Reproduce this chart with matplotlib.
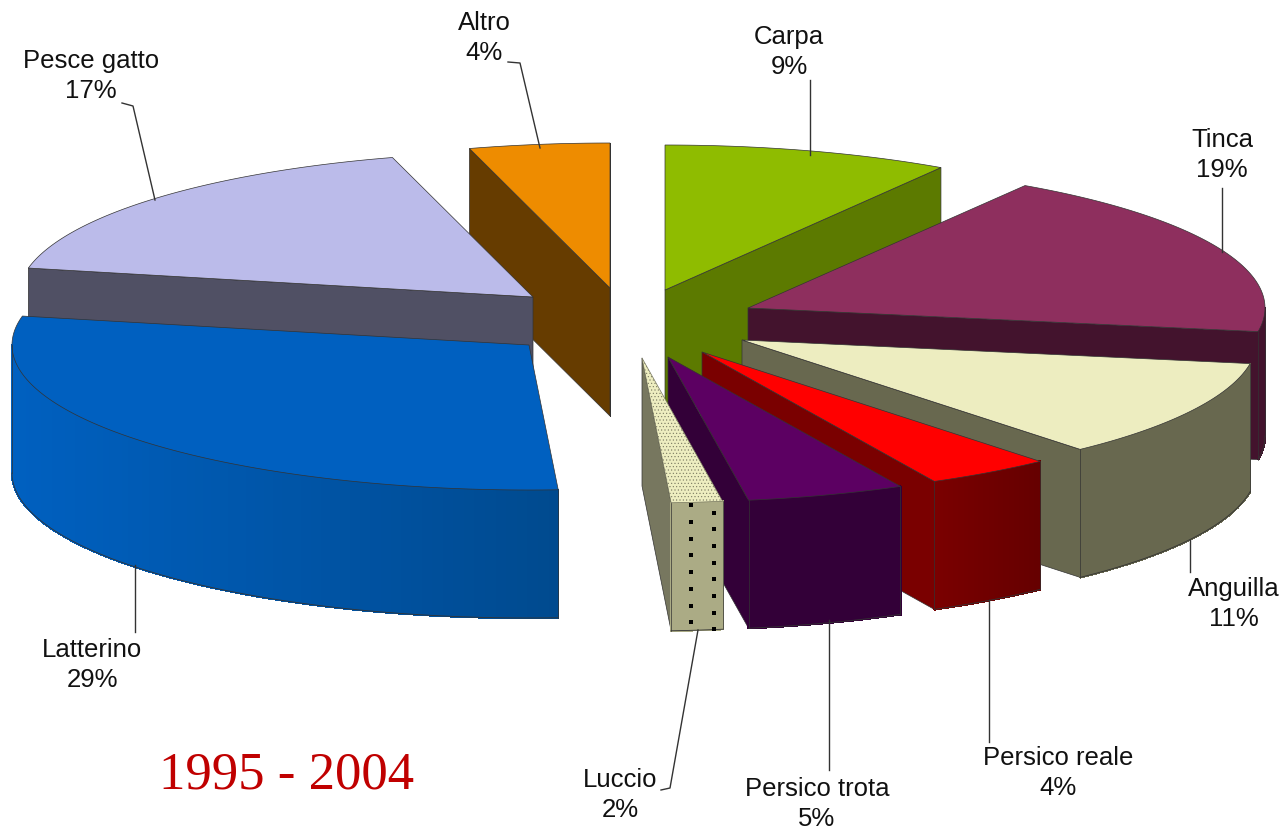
import numpy as np
import matplotlib
matplotlib.use('Agg')
import matplotlib.pyplot as plt
from matplotlib.colors import to_rgb

# slices clockwise from 12 o'clock
names = ['Carpa', 'Tinca', 'Anguilla', 'Persico reale', 'Persico trota',
         'Luccio', 'Latterino', 'Pesce gatto', 'Altro']
values = [9.0, 18.6, 11.0, 3.95, 4.95, 1.6, 29.1, 17.4, 4.4]

top_colors = ['#8fbc00', '#8e2f5e', '#ededc0', '#ff0000', '#5c0062',
              '#ededc0', '#0060c0', '#bbbbea', '#ee8c00']
side_colors = ['#5c7a00', '#43132d', '#68684f', '#7a0000', '#330038',
               '#77775f', '#0060c0', '#505064', '#663c00']
wall_left = ['#5c7a00', '#43132d', '#68684f', '#7a0000', '#330038',
             '#abab85', '#0060c0', '#505064', '#663c00']
wall_right = ['#5c7a00', '#43132d', '#68684f', '#650000', '#330038',
              '#abab85', '#004a8f', '#505064', '#663c00']

# where each exploded slice has its point, in pixels
apex = [(665, 290), (748, 308), (742, 340), (702, 352), (668, 357),
        (642, 358), (529, 345), (533, 297), (610, 288)]
slice_rx = [515, 517, 515, 515, 515, 515, 517, 515, 515]
draw_order = [8, 0, 7, 1, 2, 3, 4, 5, 6]
ry, depth = 145, 128
edge = '#333333'

# label centre and leader line for each slice
label_pos = [(789, 52), (1222, 155), (1234, 604), (1058, 773), (817, 804),
             (620, 795), (92, 665), (91, 76), (484, 38)]
leaders = [[(810, 80), (810, 155)],
           [(1222, 188), (1222, 252)],
           [(1190, 540), (1190, 572)],
           [(989, 600), (989, 742)],
           [(829, 620), (829, 770)],
           [(698, 630), (670, 788), (661, 790)],
           [(135, 565), (135, 632)],
           [(122, 103), (133, 106), (155, 200)],
           [(508, 62), (520, 63), (540, 148)]]

fig = plt.figure(figsize=(12.81, 8.30), dpi=100)
ax = fig.add_axes([0, 0, 1, 1])
ax.set_xlim(0, 1281)
ax.set_ylim(830, 0)
ax.axis('off')

bounds = np.cumsum([0] + values) / sum(values) * 2 * np.pi


def rim(i, t):
    return apex[i][0] + slice_rx[i] * np.sin(t), apex[i][1] - ry * np.cos(t)


def radial_face(i, t, color):
    x0, y0 = apex[i]
    x1, y1 = rim(i, t)
    ax.fill([x0, x1, x1, x0], [y0, y1, y1 + depth, y0 + depth],
            fc=color, ec=edge, lw=0.5, joinstyle='round')


def outer_wall(i, t1, t2):
    # only the part turned toward the viewer
    t1, t2 = max(t1, np.pi / 2), min(t2, 3 * np.pi / 2)
    if t2 <= t1:
        return
    ts = np.linspace(t1, t2, 80)
    xs, ys = rim(i, ts)
    xmin, xmax = xs.min(), xs.max()
    c0, c1 = np.array(to_rgb(wall_left[i])), np.array(to_rgb(wall_right[i]))
    for k in range(len(ts) - 1):
        f = ((xs[k] + xs[k + 1]) / 2 - xmin) / (xmax - xmin)
        col = c0 + (c1 - c0) * f
        ax.fill([xs[k], xs[k + 1], xs[k + 1], xs[k]],
                [ys[k], ys[k + 1], ys[k + 1] + depth, ys[k] + depth],
                fc=col, ec=col, lw=1.0, antialiased=False)
    ax.plot(xs, ys + depth, color=edge, lw=0.6)
    ax.plot([xs[0], xs[0]], [ys[0], ys[0] + depth], color=edge, lw=0.5)
    ax.plot([xs[-1], xs[-1]], [ys[-1], ys[-1] + depth], color=edge, lw=0.5)


for i in draw_order:
    t1, t2 = bounds[i], bounds[i + 1]
    if np.sin(t1) < 0:
        radial_face(i, t1, side_colors[i])
    if np.sin(t2) > 0:
        radial_face(i, t2, side_colors[i])
    outer_wall(i, t1, t2)

    # top of the slice
    ts = np.linspace(t1, t2, 120)
    xs, ys = rim(i, ts)
    xs = np.r_[apex[i][0], xs]
    ys = np.r_[apex[i][1], ys]
    if names[i] == 'Luccio':
        plt.rcParams['hatch.linewidth'] = 0.4
        ax.fill(xs, ys, fc=top_colors[i], ec='#77775f', lw=0.5, hatch='.....')
        # dark dots of the same pattern on the wall
        for f, start in ((0.62, 3), (0.16, 11)):
            wx, wy = rim(i, t1 + (t2 - t1) * f)
            ax.plot([wx] * 8, wy + np.arange(8) * 16.7 + start, 's',
                    color='black', ms=3.4, mew=0)
    else:
        ax.fill(xs, ys, fc=top_colors[i], ec=edge, lw=0.5)

for i, name in enumerate(names):
    pts = np.array(leaders[i])
    ax.plot(pts[:, 0], pts[:, 1], color='#333333', lw=1.0)
    ax.text(label_pos[i][0], label_pos[i][1], f'{name}\n{round(values[i])}%',
            ha='center', va='center', fontsize=18.5, family='Liberation Sans',
            color='#111111', linespacing=1.3)

ax.text(287, 775, '1995 - 2004', ha='center', va='center', fontsize=38,
        family='Liberation Serif', color='#c00000')

fig.savefig('out.png', dpi=100)
